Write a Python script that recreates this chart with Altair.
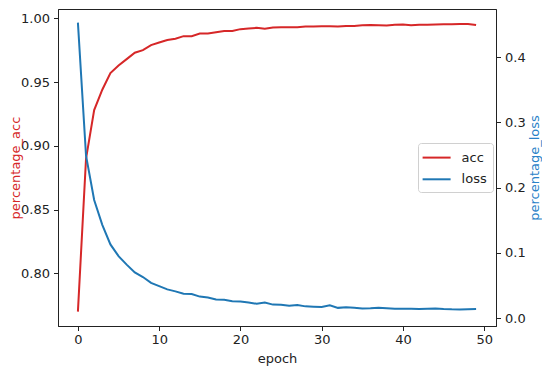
import altair as alt
import pandas as pd

epochs = list(range(50))
acc = [0.770, 0.890, 0.928, 0.944, 0.957, 0.963, 0.968, 0.973, 0.975, 0.979,
       0.981, 0.983, 0.984, 0.986, 0.986, 0.988, 0.988, 0.989, 0.990, 0.990,
       0.9915, 0.992, 0.9925, 0.9918, 0.9928, 0.993, 0.993, 0.993, 0.9935, 0.9936,
       0.9937, 0.9937, 0.9935, 0.994, 0.994, 0.9945, 0.9948, 0.9946, 0.9944, 0.995,
       0.9952, 0.9945, 0.995, 0.995, 0.9952, 0.9953, 0.9953, 0.9955, 0.9956, 0.9948]
loss = [0.453, 0.249, 0.181, 0.143, 0.113, 0.095, 0.082, 0.070, 0.063, 0.054,
        0.049, 0.044, 0.041, 0.0375, 0.037, 0.033, 0.0316, 0.0286, 0.028, 0.026,
        0.0256, 0.024, 0.022, 0.024, 0.0207, 0.0205, 0.019, 0.020, 0.018, 0.0175,
        0.017, 0.0197, 0.0157, 0.0165, 0.016, 0.0148, 0.015, 0.0158, 0.015, 0.0143,
        0.0143, 0.0145, 0.0138, 0.0142, 0.0148, 0.014, 0.0135, 0.0133, 0.0136, 0.0138]

series_names = ["acc", "loss"]
series_colors = ["#d62728", "#1f77b4"]
x_ticks = [0, 10, 20, 30, 40, 50]
acc_ticks = [0.80, 0.85, 0.90, 0.95, 1.00]
loss_ticks = [0.0, 0.1, 0.2, 0.3, 0.4]

df = pd.DataFrame({"epoch": epochs, "acc": acc, "loss": loss})

FONT = "DejaVu Sans"
W, H = 438, 317

x_enc = alt.X("epoch:Q",
              scale=alt.Scale(domain=[-2.45, 51.45], nice=False, zero=False),
              axis=alt.Axis(values=x_ticks, format="d", title="epoch",
                            labelPadding=3, titlePadding=6))

color_enc = alt.Color("series:N",
                      scale=alt.Scale(domain=series_names, range=series_colors),
                      legend=alt.Legend(title=None, orient="none",
                                        legendX=360, legendY=134,
                                        symbolType="M-1.25,0H2.25", symbolSize=256,
                                        symbolStrokeWidth=2, labelFontSize=13,
                                        labelFont=FONT, labelColor="#222",
                                        labelOffset=20, rowPadding=5.7,
                                        padding=5.6, strokeColor="#d0d0d0",
                                        fillColor="white", cornerRadius=3))

acc_line = alt.Chart(df).transform_fold(["acc"], as_=["series", "value"]).mark_line(
    strokeWidth=2
).encode(
    x=x_enc,
    y=alt.Y("value:Q",
            scale=alt.Scale(domain=[0.7587, 1.0073], nice=False, zero=False),
            axis=alt.Axis(values=acc_ticks, format=".2f", title="percentage_acc",
                          titleColor="#d62728", orient="left", labelPadding=4,
                          titleX=-36, titleY=H / 2)),
    color=color_enc,
)

loss_line = alt.Chart(df).transform_fold(["loss"], as_=["series", "value"]).mark_line(
    strokeWidth=2
).encode(
    x=x_enc,
    y=alt.Y("value:Q",
            scale=alt.Scale(domain=[-0.0121, 0.4739], nice=False, zero=False),
            axis=alt.Axis(values=loss_ticks, format=".1f", title="percentage_loss",
                          titleColor="#2a82c8", orient="right", labelPadding=4,
                          titleAngle=270, titleX=45, titleY=H / 2)),
    color=color_enc,
)

chart = alt.layer(acc_line, loss_line).resolve_scale(
    y="independent"
).properties(
    width=W, height=H,
    autosize=alt.AutoSizeParams(type="none"),
    padding={"left": 50, "top": 1, "right": 46, "bottom": 42},
).configure_view(
    stroke="#222", strokeWidth=1
).configure_axis(
    grid=False, labelFont=FONT, titleFont=FONT, labelFontSize=13, titleFontSize=13,
    titleFontWeight="normal", labelColor="#222", titleColor="#222",
    domainColor="#222", tickColor="#222", tickSize=4.5, domainWidth=1, tickWidth=1,
)

chart.save("out.html", embed_options={"renderer": "svg", "actions": False})
